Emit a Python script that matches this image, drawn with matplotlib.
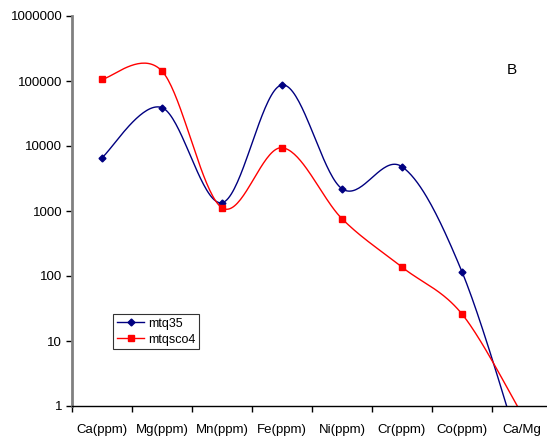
import numpy as np
import matplotlib.pyplot as plt
from matplotlib.ticker import FixedLocator, FuncFormatter, NullLocator

plt.rcParams['font.family'] = ['Liberation Sans', 'DejaVu Sans']

# element concentrations per sample
categories = ['Ca(ppm)', 'Mg(ppm)', 'Mn(ppm)', 'Fe(ppm)', 'Ni(ppm)', 'Cr(ppm)', 'Co(ppm)', 'Ca/Mg']
mtq35 = [6600, 38900, 1340, 87000, 2200, 4800, 116, 0.17]
mtqsco4 = [106000, 142000, 1120, 9400, 760, 137, 26, 0.74]
yticks = [1, 10, 100, 1000, 10000, 100000, 1000000]


def smooth(xs, ys, n=40):
    # Catmull-Rom style bezier through the points, done in log space
    x = np.asarray(xs, float)
    y = np.log10(np.asarray(ys, float))
    px = np.concatenate([[x[0]], x, [x[-1]]])
    py = np.concatenate([[y[0]], y, [y[-1]]])
    t = np.linspace(0, 1, n)[:, None]
    out_x, out_y = [], []
    for i in range(1, len(px) - 2):
        p0 = np.array([px[i - 1], py[i - 1]])
        p1 = np.array([px[i], py[i]])
        p2 = np.array([px[i + 1], py[i + 1]])
        p3 = np.array([px[i + 2], py[i + 2]])
        c1 = p1 + (p2 - p0) / 6
        c2 = p2 - (p3 - p1) / 6
        b = ((1 - t) ** 3) * p1 + 3 * ((1 - t) ** 2) * t * c1 \
            + 3 * (1 - t) * t ** 2 * c2 + t ** 3 * p2
        out_x.append(b[:, 0])
        out_y.append(b[:, 1])
    return np.concatenate(out_x), 10 ** np.concatenate(out_y)


fig = plt.figure(figsize=(5.47, 4.37), dpi=100)
W, H = 547, 437
ax = fig.add_axes([72 / W, 31 / H, 480 / W, 390 / H])

xpos = np.arange(len(categories)) + 0.5

for vals, col, mk, ms, lab in [(mtq35, '#000080', 'D', 3.5, 'mtq35'),
                               (mtqsco4, '#FF0000', 's', 4.5, 'mtqsco4')]:
    sx, sy = smooth(xpos, vals)
    ax.plot(sx, sy, color=col, lw=1.0)
    ax.plot(xpos, vals, linestyle='none', marker=mk, ms=ms, color=col)
    ax.plot([], [], color=col, lw=1.0, marker=mk, ms=ms, label=lab)

ax.set_yscale('log')
ax.set_ylim(1, 1000000)
ax.set_xlim(0, len(categories))
ax.yaxis.set_major_locator(FixedLocator(yticks))
ax.yaxis.set_minor_locator(NullLocator())
ax.yaxis.set_major_formatter(FuncFormatter(lambda v, p: f'{int(round(v))}'))

ax.set_xticks(np.arange(len(categories) + 1))
ax.set_xticklabels([])
ax.set_xticks(xpos, minor=True)
ax.set_xticklabels(categories, minor=True)
ax.tick_params(axis='x', which='minor', length=0, pad=13, labelsize=9.5)
ax.tick_params(axis='x', which='major', length=4, width=1, direction='out')
ax.tick_params(axis='y', length=4, width=1, direction='out', labelsize=9.5, pad=3)

for s in ['top', 'right']:
    ax.spines[s].set_visible(False)
ax.spines['left'].set_color('#808080')
ax.spines['left'].set_linewidth(2)
ax.spines['bottom'].set_color('black')
ax.spines['bottom'].set_linewidth(1)

ax.text(512 / W, (437 - 70) / H, 'B', transform=fig.transFigure,
        ha='center', va='center', fontsize=11)

leg = ax.legend(loc='upper left', bbox_to_anchor=(113 / W, (437 - 314) / H),
                bbox_transform=fig.transFigure, fontsize=9, frameon=True,
                fancybox=False, edgecolor='black', handlelength=2.2,
                handletextpad=0.3, borderpad=0.3, labelspacing=0.3,
                borderaxespad=0)
leg.get_frame().set_linewidth(0.8)

fig.savefig('out.png', dpi=100)
